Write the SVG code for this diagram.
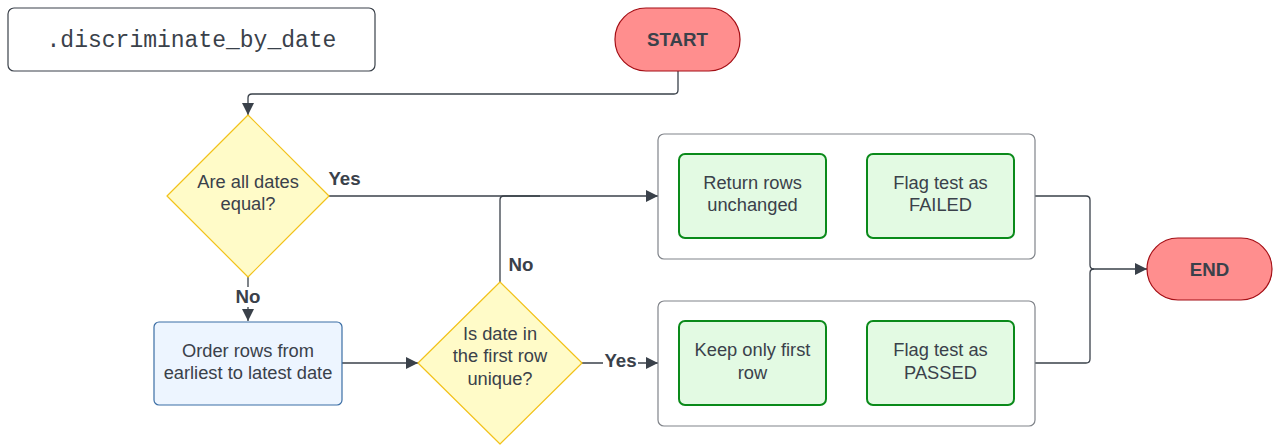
<svg xmlns="http://www.w3.org/2000/svg" width="1282" height="446" viewBox="0 0 1282 446">
<style>
text{font-family:"Liberation Sans",Arial,sans-serif;font-size:18.3px;fill:#3a414a;text-anchor:middle}
.b{font-weight:bold;font-size:18.7px}
.mono{font-family:"Liberation Mono","DejaVu Sans Mono",monospace;font-size:23px}
.term{fill:#ff8e8e;stroke:#a30d14;stroke-width:1.2}
.dia{fill:#fffbc8;stroke:#f2c21b;stroke-width:1.2}
.grp{fill:#fff;stroke:#80848a;stroke-width:1.2}
.act{fill:#e3fae3;stroke:#0a8a1a;stroke-width:2}
.proc{fill:#edf5ff;stroke:#3b6ea5;stroke-width:1.2}
.c{fill:none;stroke:#3a414a;stroke-width:1.3}
</style>
<defs>
<marker id="ar" viewBox="0 0 10 10" refX="10" refY="5" markerWidth="17" markerHeight="12" markerUnits="userSpaceOnUse" orient="auto">
<path d="M0,0 L10,5 L0,10 z" fill="#3a414a"/>
</marker>
</defs>
<g id="title"><rect x="8" y="8" width="367" height="63" rx="6" fill="#fff" stroke="#3a414a" stroke-width="1.2"/><text class="mono" x="191.5" y="47">.discriminate_by_date</text></g>
<g id="connectors">
<path class="c" d="M678,71 V90 Q678,94 674,94 H252 Q248,94 248,98 V115" marker-end="url(#ar)"/>
<path class="c" d="M329,196 H658" marker-end="url(#ar)"/>
<path class="c" d="M248,277 V321" marker-end="url(#ar)"/>
<path class="c" d="M342,363 H418" marker-end="url(#ar)"/>
<path class="c" d="M500,282 V200 Q500,196 504,196 H540"/>
<path class="c" d="M582,363 H658" marker-end="url(#ar)"/>
<path class="c" d="M1035,196 H1086 Q1090,196 1090,200 V265 Q1090,269 1094,269 H1147" marker-end="url(#ar)"/>
<path class="c" d="M1035,363 H1086 Q1090,363 1090,359 V273 Q1090,269 1094,269"/>
<text class="b" x="344.5" y="185">Yes</text>
<rect x="235" y="287" width="26" height="20" fill="#fff"/>
<text class="b" x="248" y="303">No</text>
<text class="b" x="521" y="271">No</text>
<rect x="603" y="352" width="35" height="20" fill="#fff"/>
<text class="b" x="620.5" y="367">Yes</text>
</g>
<g id="start"><rect class="term" x="615" y="8" width="125" height="63" rx="31"/><text class="b" x="677.5" y="45.5">START</text></g>
<g id="q1"><path class="dia" d="M248,115 L329,196 L248,277 L167,196 Z" stroke-linejoin="round"/><text x="248" y="187.5">Are all dates</text><text x="248" y="210">equal?</text></g>
<g id="order"><rect class="proc" x="154" y="322" width="188" height="83" rx="5"/><text x="248" y="356.5">Order rows from</text><text x="248" y="379">earliest to latest date</text></g>
<g id="q2"><path class="dia" d="M500,282 L582,363 L500,444 L418,363 Z" stroke-linejoin="round"/><text x="500" y="339.5">Is date in</text><text x="500" y="362">the first row</text><text x="500" y="384.5">unique?</text></g>
<g id="failgroup"><rect class="grp" x="658" y="134" width="377" height="125" rx="6"/></g>
<g id="returnrows"><rect class="act" x="679" y="154" width="147" height="84" rx="6"/><text x="752.5" y="188.5">Return rows</text><text x="752.5" y="211">unchanged</text></g>
<g id="failed"><rect class="act" x="867" y="154" width="147" height="84" rx="6"/><text x="940.5" y="188.5">Flag test as</text><text x="940.5" y="211">FAILED</text></g>
<g id="passgroup"><rect class="grp" x="658" y="301" width="377" height="125" rx="6"/></g>
<g id="keepfirst"><rect class="act" x="679" y="321" width="147" height="84" rx="6"/><text x="752.5" y="356">Keep only first</text><text x="752.5" y="378.5">row</text></g>
<g id="passed"><rect class="act" x="867" y="321" width="147" height="84" rx="6"/><text x="940.5" y="356">Flag test as</text><text x="940.5" y="378.5">PASSED</text></g>
<g id="end"><rect class="term" x="1147" y="238" width="125" height="62" rx="31"/><text class="b" x="1209.5" y="275.5">END</text></g>
</svg>
